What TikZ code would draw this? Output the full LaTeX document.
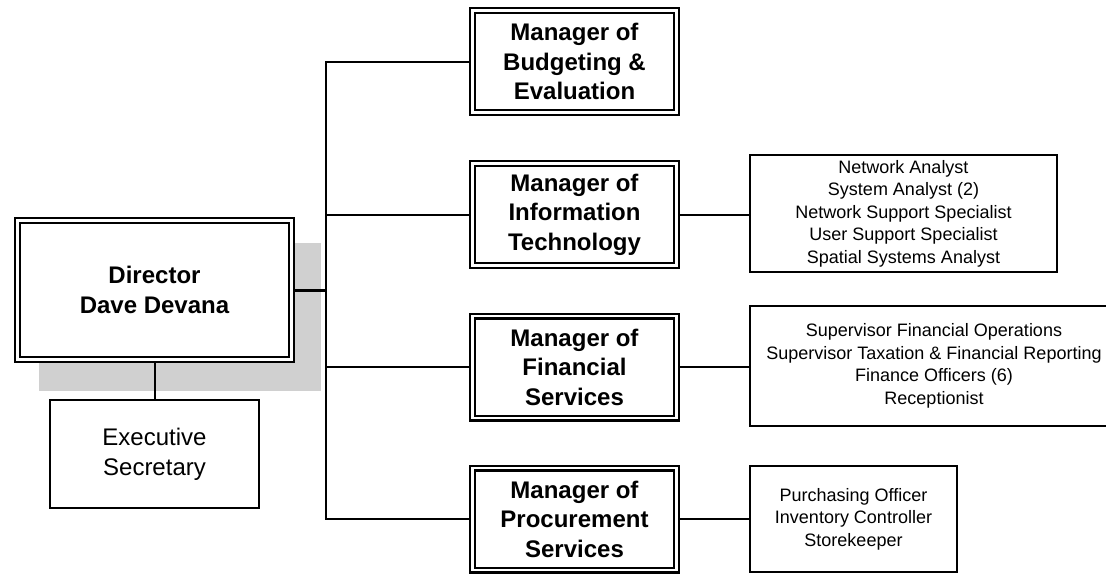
\documentclass[tikz,border=0pt]{standalone}
\usepackage{fontspec}
\setmainfont{Liberation Sans}
\definecolor{shadowgray}{RGB}{208,208,208}
\tikzset{
  dbl/.style={draw, line width=2.1pt, double, double distance=2.8pt, fill=white, outer sep=3.5pt, inner sep=2pt, align=center, font=\bfseries\fontsize{24}{29.5}\selectfont},
  plainbox/.style={draw, line width=2pt, fill=white, inner sep=2pt, align=center, font=\fontsize{18}{22.5}\selectfont},
  conn/.style={line width=2pt},
}
\begin{document}
\begin{tikzpicture}[x=1pt, y=-1pt]
\useasboundingbox (0,0) rectangle (1106,574);
\clip (0,0) rectangle (1106,574);
% shadow behind director
\fill[shadowgray] (39,243) rectangle (321,391);
% director
\node[dbl, minimum width=274pt, minimum height=139pt] (dir) at (154.5,290) {Director\\Dave Devana};
% executive secretary
\node[plainbox, minimum width=209pt, minimum height=108pt, font=\fontsize{24}{30}\selectfont] (exec) at (154.5,454) {Executive\\Secretary};
% managers
\node[dbl, minimum width=204pt, minimum height=102pt] (bud) at (574.5,61.5) {Manager of\\Budgeting \&\\Evaluation};
\node[dbl, minimum width=204pt, minimum height=102pt] (it) at (574.5,214.5) {Manager of\\Information\\Technology};
\node[dbl, minimum width=204pt, minimum height=102pt] (fin) at (574.5,367) {Manager of\\Financial\\Services};
\node[dbl, minimum width=204pt, minimum height=102pt] (proc) at (574.5,519) {Manager of\\Procurement\\Services};
% staff boxes
\node[plainbox, minimum width=307pt, minimum height=117pt] (itsub) at (903.5,213.5) {Network Analyst\\System Analyst (2)\\Network Support Specialist\\User Support Specialist\\Spatial Systems Analyst};
\node[plainbox, minimum width=368pt, minimum height=120pt] (finsub) at (934,366) {Supervisor Financial Operations\\Supervisor Taxation \& Financial Reporting\\Finance Officers (6)\\Receptionist};
\node[plainbox, minimum width=207pt, minimum height=106pt] (procsub) at (853.5,519) {Purchasing Officer\\Inventory Controller\\Storekeeper};
% trunk
\coordinate (trunk) at (326,290);
\draw[conn] (bud.west) -| (trunk);
\draw[conn] (it.west) -| (trunk);
\draw[conn] (fin.west) -| (trunk);
\draw[conn] (proc.west) -| (trunk);
\draw[line width=3pt] (dir.east) -- (trunk);
\draw[conn] (dir.south) -- (exec.north);
% manager to staff
\draw[conn] (it.east) -- (it.east -| itsub.west);
\draw[conn] (fin.east) -- (fin.east -| finsub.west);
\draw[conn] (proc.east) -- (proc.east -| procsub.west);
\end{tikzpicture}
\end{document}
